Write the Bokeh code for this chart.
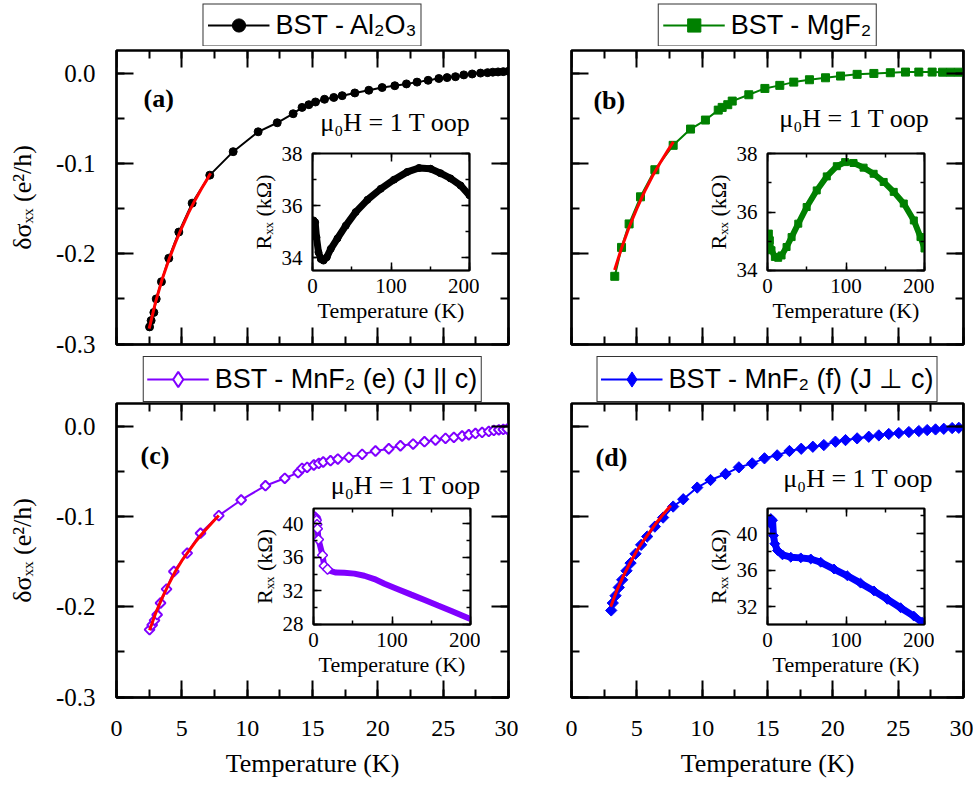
from bokeh.plotting import figure
from bokeh.models import (Range1d, LinearAxis, SingleIntervalTicker, PrintfTickFormatter,
                          Legend, LegendItem, Label)
from bokeh.embed import file_html
from bokeh.resources import INLINE
import math

# ---------------- data ----------------
# panel (a) BST - Al2O3
a_T = [2.53, 2.65, 2.86, 3.04, 3.44, 4.0, 4.77, 5.79, 7.14, 8.93, 10.84, 12.3, 13.52, 14.2,
       14.72, 15.23, 15.92, 16.63, 17.27, 18.24, 19.31, 20.33, 21.3, 22.19, 23.0, 23.85,
       24.67, 25.3, 25.94, 26.58, 27.22, 27.86, 28.4, 28.8, 29.2, 29.6, 30.0]
a_ds = [-0.281, -0.274, -0.265, -0.250, -0.231, -0.205, -0.176, -0.144, -0.113, -0.087, -0.065,
        -0.055, -0.045, -0.038, -0.035, -0.032, -0.029, -0.027, -0.025, -0.022, -0.019, -0.016,
        -0.014, -0.012, -0.010, -0.008, -0.006, -0.005, -0.004, -0.002, -0.001, 0.000, 0.0005,
        0.001, 0.0013, 0.0016, 0.002]
a_fit_T = [2.5, 3.0, 3.5, 4.0, 4.5, 5.0, 5.5, 6.0, 6.5, 7.0, 7.2]
a_fit_ds = [-0.283, -0.253, -0.228, -0.207, -0.188, -0.171, -0.155, -0.141, -0.128, -0.116, -0.111]

# panel (b) BST - MgF2
b_T = [3.31, 3.83, 4.41, 5.28, 6.38, 7.78, 9.11, 10.25, 11.23, 11.53, 11.96, 12.3, 13.57, 14.8,
       15.94, 17.01, 18.21, 19.44, 20.59, 21.86, 23.14, 24.4, 25.56, 26.58, 27.6, 28.4, 29.0, 29.6]
b_ds = [-0.225, -0.193, -0.167, -0.137, -0.107, -0.080, -0.062, -0.052, -0.041, -0.038, -0.035,
        -0.031, -0.024, -0.017, -0.0136, -0.010, -0.0074, -0.0052, -0.0033, -0.0014, -0.0004,
        0.0004, 0.0011, 0.0011, 0.0011, 0.0010, 0.0010, 0.0010]
b_fit_T = [3.3, 3.8, 4.4, 5.0, 5.6, 6.2, 6.8, 7.4, 7.8]
b_fit_ds = [-0.218, -0.195, -0.171, -0.150, -0.131, -0.114, -0.099, -0.085, -0.076]

# panel (c) BST - MnF2 (e)
c_T = [2.53, 2.73, 2.91, 3.11, 3.37, 3.83, 4.39, 5.41, 6.43, 7.83, 9.54, 11.4, 12.88, 13.9, 14.2,
       14.59, 15.1, 15.48, 15.82, 16.38, 16.94, 17.78, 18.8, 19.82, 20.84, 21.73, 22.7, 23.57,
       24.41, 25.18, 25.82, 26.45, 26.96, 27.47, 27.98, 28.49, 28.88, 29.26, 29.6, 29.9]
c_ds = [-0.2254, -0.2202, -0.2151, -0.2088, -0.1959, -0.1805, -0.161, -0.1407, -0.1186, -0.0991,
        -0.0818, -0.066, -0.0578, -0.0516, -0.0468, -0.0457, -0.0431, -0.0413, -0.0398, -0.0383,
        -0.0365, -0.0346, -0.0313, -0.0276, -0.0251, -0.0218, -0.0199, -0.0173, -0.0155, -0.0136,
        -0.0125, -0.011, -0.0096, -0.0081, -0.007, -0.0059, -0.0048, -0.0041, -0.0037, -0.0033]
c_fit_T = [2.53, 3.0, 3.5, 4.0, 4.5, 5.0, 5.5, 6.0, 6.5, 7.0, 7.5, 7.83]
c_fit_ds = [-0.226, -0.207, -0.190, -0.175, -0.161, -0.149, -0.139, -0.129, -0.120, -0.112, -0.104, -0.099]

# panel (d) BST - MnF2 (f)
d_T = [3.04, 3.16, 3.37, 3.62, 3.88, 4.21, 4.52, 4.9, 5.33, 5.79, 6.38, 7.01, 7.78, 8.55, 9.62,
       10.64, 11.79, 12.81, 13.83, 14.77, 15.74, 16.68, 17.58, 18.47, 19.31, 20.2, 20.97, 21.86,
       22.75, 23.52, 24.28, 25.05, 25.82, 26.58, 27.22, 27.86, 28.49, 29.13, 29.64]
d_ds = [-0.2041, -0.1959, -0.1878, -0.1786, -0.1702, -0.1602, -0.1517, -0.1414, -0.1315, -0.1223,
        -0.1113, -0.1013, -0.0891, -0.081, -0.0681, -0.0597, -0.053, -0.0457, -0.0413, -0.0357,
        -0.0324, -0.0276, -0.0251, -0.0229, -0.021, -0.0173, -0.0155, -0.0136, -0.0118, -0.0103,
        -0.0088, -0.0077, -0.0066, -0.0055, -0.0044, -0.0037, -0.003, -0.0022, -0.0019]
d_fit_T = [3.0, 3.5, 4.0, 4.5, 5.0, 5.5, 6.0, 6.5, 7.0, 7.6]
d_fit_ds = [-0.200, -0.181, -0.165, -0.151, -0.138, -0.127, -0.117, -0.107, -0.098, -0.088]

# insets: R_xx (kOhm) vs T (K)
ia_T = [1.3, 3.4, 5.1, 7.6, 10.6, 14, 18.2, 23.3, 31.8, 42.4, 55, 70, 86.9, 103.8, 120.8, 135.6,
        150.4, 163, 175.8, 188.6, 200]
ia_R = [35.44, 35.37, 34.79, 34.22, 33.96, 33.9, 34.03, 34.35, 34.75, 35.24, 35.76, 36.23, 36.65,
        37.0, 37.3, 37.45, 37.42, 37.25, 37.05, 36.78, 36.4]
ib_T = [1.7, 3, 5.1, 9.4, 13.6, 17.9, 24.3, 30.7, 39.2, 49.9, 62.7, 75.5, 88.3, 98.9, 109.6,
        122.4, 135.2, 148, 160.8, 173.6, 186.4, 194.9, 200]
ib_R = [35.26, 35.03, 34.69, 34.46, 34.43, 34.51, 34.8, 35.14, 35.6, 36.17, 36.74, 37.22, 37.57,
        37.71, 37.68, 37.52, 37.31, 37.03, 36.69, 36.29, 35.71, 35.14, 34.75]
ic_T = [2.1, 3.0, 3.8, 4.5, 5.1, 6.4, 11.5, 13.6, 17.9, 22.2, 28.6, 39.2, 52, 64.8, 77.6, 90.4,
        107.5, 124.5, 141.6, 158.6, 175.7, 188.5, 200]
ic_R = [40.8, 40.6, 40.4, 39.9, 39.4, 38.1, 36.24, 34.97, 34.57, 34.34, 34.18, 34.14, 34.05,
        33.8, 33.4, 32.85, 32.2, 31.55, 30.9, 30.25, 29.6, 29.1, 28.65]
id_T = [2.5, 4.2, 6.4, 7.6, 9.3, 12.7, 19.1, 29.7, 42.4, 55.1, 67.8, 84.7, 101.7, 118.6, 135.6,
        152.5, 169.5, 186.4, 197, 200]
id_R = [41.2, 41.66, 41.47, 39.8, 38.9, 38.16, 37.68, 37.42, 37.35, 37.23, 36.87, 36.13, 35.39,
        34.58, 33.73, 32.81, 31.89, 30.97, 30.3, 30.15]

legend_labels = ["BST - Al\u2082O\u2083", "BST - MgF\u2082",
                 "BST - MnF\u2082 (e) (J || c)", "BST - MnF\u2082 (f) (J \u22a5 c)"]
panel_tags = ["(a)", "(b)", "(c)", "(d)"]
field_text = "\u03bc\u2080H = 1 T oop"

SERIF = "Liberation Serif"
SANS = "Liberation Sans"
BLACK, GREEN, PURPLE, BLUE = "#000000", "#008000", "#8000FF", "#0000FF"
DIAM = math.pi / 4


def ticks_style(ax, major, minor, lw):
    ax.major_tick_in = major
    ax.major_tick_out = 0
    ax.minor_tick_in = minor
    ax.minor_tick_out = 0
    ax.major_tick_line_width = lw
    ax.minor_tick_line_width = lw
    ax.major_tick_line_color = "black"
    ax.minor_tick_line_color = "black"
    ax.axis_line_width = lw
    ax.axis_line_color = "black"


def place(fig, left, top):
    fig.styles = {"position": "absolute", "left": f"{left}px", "top": f"{top}px"}


def draw_series(fig, xs, ys, color, marker, msize, open_marker, angle):
    lr = fig.line(xs, ys, line_color=color, line_width=2)
    if open_marker:
        sr = fig.scatter(xs, ys, marker=marker, size=msize, angle=angle, line_color=color,
                         fill_color="white", line_width=2)
    else:
        sr = fig.scatter(xs, ys, marker=marker, size=msize, angle=angle, line_color=color,
                         fill_color=color, line_width=1)
    return lr, sr


def main_panel(fx, fy, top_border, xs, ys, fx_T, fx_v, color, marker, msize, open_marker, angle,
               tag, tag_xy, field_xy, show_x, show_y):
    p = figure(frame_width=392, frame_height=294,
               x_range=Range1d(0, 30), y_range=Range1d(-0.3005, 0.025),
               min_border_left=116, min_border_top=top_border, min_border_right=10,
               min_border_bottom=45,
               toolbar_location=None, output_backend="svg",
               background_fill_alpha=0, border_fill_alpha=0,
               outline_line_color="black", outline_line_width=2.5, outline_line_alpha=1)
    place(p, fx - 116, fy - top_border)
    p.grid.visible = False

    xa = p.xaxis[0]
    ya = p.yaxis[0]
    xa.ticker = SingleIntervalTicker(interval=5, num_minor_ticks=2)
    ya.ticker = SingleIntervalTicker(interval=0.1, num_minor_ticks=2)
    ya.formatter = PrintfTickFormatter(format="%.1f")
    for ax in (xa, ya):
        ticks_style(ax, 17, 8, 2)
        ax.major_label_text_font = SERIF
        ax.axis_label_text_font = SERIF
        ax.axis_label_text_font_size = "26px"
        ax.axis_label_text_font_style = "normal"
        ax.major_label_text_color = "black"
        ax.axis_label_text_color = "black"
    xa.major_label_text_font_size = "24px"
    ya.major_label_text_font_size = "25px"
    xa.major_label_standoff = 23
    ya.major_label_standoff = 21
    xa.axis_label_standoff = 10
    ya.axis_label_standoff = 16
    if show_x:
        xa.axis_label = "Temperature (K)"
    else:
        xa.major_label_text_color = None
    if show_y:
        ya.axis_label = "\u03b4\u03c3\u2093\u2093 (e\u00b2/h)"
    else:
        ya.major_label_text_color = None

    # mirrored ticks: right and top
    ra = LinearAxis(ticker=SingleIntervalTicker(interval=0.1, num_minor_ticks=2),
                    major_label_text_color=None)
    ticks_style(ra, 17, 8, 2)
    p.add_layout(ra, "right")
    ta = LinearAxis(ticker=SingleIntervalTicker(interval=5, num_minor_ticks=2),
                    major_label_text_color=None, fixed_location=0.025)
    ta.major_tick_in = 0
    ta.major_tick_out = 17
    ta.minor_tick_in = 0
    ta.minor_tick_out = 8
    ta.major_tick_line_width = 2
    ta.minor_tick_line_width = 2
    ta.axis_line_color = None
    p.add_layout(ta, "below")

    draw_series(p, xs, ys, color, marker, msize, open_marker, angle)
    p.line(fx_T, fx_v, line_color="#FF0000", line_width=3)

    p.add_layout(Label(x=tag_xy[0], y=tag_xy[1], text=tag, text_font=SERIF,
                       text_font_size="26px", text_font_style="bold", text_baseline="middle",
                       text_color="black"))
    p.add_layout(Label(x=field_xy[0], y=field_xy[1], text=field_text, text_font=SERIF,
                       text_font_size="26px", text_baseline="middle", text_color="black"))
    return p


def legend_box(fx, top, height, gh, pad, xs, ys, label, color, marker, open_marker):
    # a frame-sized strip above each panel holding only its legend; the series is drawn
    # here with a range that keeps it out of view, so only the legend swatch shows
    g = figure(frame_width=392, frame_height=height, x_axis_type=None, y_axis_type=None,
               x_range=Range1d(-3, -2), y_range=Range1d(-3, -2),
               min_border=0, toolbar_location=None, output_backend="svg",
               background_fill_alpha=0, border_fill_alpha=0, outline_line_color=None)
    place(g, fx, top)
    g.grid.visible = False
    lr, sr = draw_series(g, xs, ys, color, marker, 8, open_marker, 0)
    leg = Legend(items=[LegendItem(label=label, renderers=[lr, sr])], location="center",
                 orientation="horizontal", glyph_width=62, glyph_height=gh, padding=pad,
                 margin=0, label_standoff=6, label_text_font=SANS,
                 label_text_font_size="27px", label_height=33, spacing=0,
                 label_text_color="black",
                 border_line_color="#333333", border_line_width=1.2, border_line_alpha=1,
                 background_fill_color="white", background_fill_alpha=1)
    g.add_layout(leg, "center")
    return g


def inset(fx, fy, fh, xs, ys, color, marker, msize, open_marker, angle, lw, yr, yint, n_mark):
    q = figure(frame_width=157, frame_height=fh,
               x_range=Range1d(0, 200), y_range=Range1d(*yr),
               min_border_left=75, min_border_top=10, min_border_right=10, min_border_bottom=10,
               toolbar_location=None, output_backend="svg",
               background_fill_color="white", background_fill_alpha=0, border_fill_alpha=0,
               outline_line_color="black", outline_line_width=2, outline_line_alpha=1)
    place(q, fx - 75, fy - 10)
    q.grid.visible = False
    xa = q.xaxis[0]
    ya = q.yaxis[0]
    xa.ticker = SingleIntervalTicker(interval=100, num_minor_ticks=2)
    ya.ticker = SingleIntervalTicker(interval=yint, num_minor_ticks=2)
    for ax in (xa, ya):
        ticks_style(ax, 8, 4, 1.5)
        ax.major_label_text_font = SERIF
        ax.major_label_text_font_size = "21px"
        ax.axis_label_text_font = SERIF
        ax.axis_label_text_font_size = "22px"
        ax.axis_label_text_font_style = "normal"
        ax.major_label_text_color = "black"
        ax.axis_label_text_color = "black"
    xa.axis_label = "Temperature (K)"
    ya.axis_label = "R\u2093\u2093 (k\u03a9)"
    xa.major_label_standoff = 8
    ya.major_label_standoff = 10
    xa.axis_label_standoff = 2
    ya.axis_label_standoff = 3
    ra = LinearAxis(ticker=SingleIntervalTicker(interval=yint, num_minor_ticks=2),
                    major_label_text_color=None)
    ticks_style(ra, 8, 4, 1.5)
    q.add_layout(ra, "right")
    ta = LinearAxis(ticker=SingleIntervalTicker(interval=100, num_minor_ticks=2),
                    major_label_text_color=None, fixed_location=yr[1])
    ta.major_tick_in = 0
    ta.major_tick_out = 8
    ta.minor_tick_in = 0
    ta.minor_tick_out = 4
    ta.major_tick_line_width = 1.5
    ta.minor_tick_line_width = 1.5
    ta.axis_line_color = None
    q.add_layout(ta, "below")

    q.line(xs, ys, line_color=color, line_width=lw)
    if open_marker:
        q.scatter(xs[:n_mark], ys[:n_mark], marker=marker, size=msize, angle=angle,
                  line_color=color, fill_color="white", line_width=1.5)
    else:
        q.scatter(xs, ys, marker=marker, size=msize, angle=angle, line_color=color,
                  fill_color=color)
    return q


pa = main_panel(116, 50, 50, a_T, a_ds, a_fit_T, a_fit_ds, BLACK, "circle", 8, False, 0,
                panel_tags[0], (2.07, -0.0276), (15.6, -0.0551), False, True)
pb = main_panel(571, 50, 50, b_T, b_ds, b_fit_T, b_fit_ds, GREEN, "square", 8, False, 0,
                panel_tags[1], (1.68, -0.0309), (15.9, -0.0507), False, False)
pc = main_panel(116, 403, 10, c_T, c_ds, c_fit_T, c_fit_ds, PURPLE, "square", 7, True, DIAM,
                panel_tags[2], (1.84, -0.0321), (16.4, -0.0653), True, True)
pd = main_panel(571, 403, 10, d_T, d_ds, d_fit_T, d_fit_ds, BLUE, "square", 8, False, DIAM,
                panel_tags[3], (1.84, -0.0343), (16.2, -0.0576), True, False)

la = legend_box(116, 3, 43, 33, 4, a_T, a_ds, legend_labels[0], BLACK, "circle", False)
lb = legend_box(571, 3, 43, 33, 4, b_T, b_ds, legend_labels[1], GREEN, "square", False)
lc = legend_box(116, 354, 50, 38, 3, c_T, c_ds, legend_labels[2], PURPLE, "diamond", True)
ld = legend_box(571, 354, 50, 38, 3, d_T, d_ds, legend_labels[3], BLUE, "diamond", False)

qa = inset(312, 153, 117, ia_T, ia_R, BLACK, "circle", 7, False, 0, 7, (33.52, 38.005), 2, 0)
qb = inset(767, 153, 117, ib_T, ib_R, GREEN, "square", 7, False, 0, 6, (33.995, 38.005), 2, 0)
qc = inset(313, 508, 116, ic_T, ic_R, PURPLE, "square", 7, True, DIAM, 6, (28.0 - 0.005, 41.8), 4, 9)
qd = inset(767, 508, 116, id_T, id_R, BLUE, "square", 7, False, DIAM, 7, (30.05, 42.76), 4, 0)

p = [pa, pb, pc, pd, la, lb, lc, ld, qa, qb, qc, qd]
open("out.html", "w").write(file_html(p, INLINE))
